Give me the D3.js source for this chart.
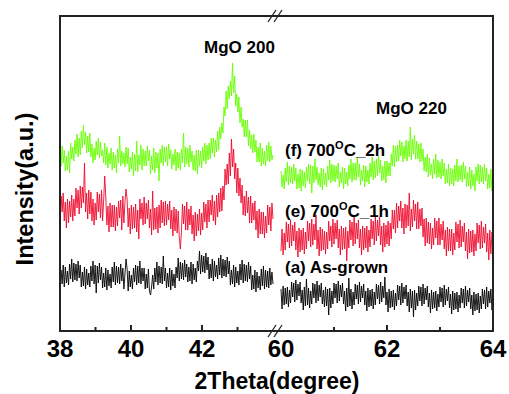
<!DOCTYPE html>
<html>
<head>
<meta charset="utf-8">
<script src="https://cdn.jsdelivr.net/npm/d3@7"></script>
<style>
  html, body { margin: 0; padding: 0; background: #fff; }
  svg { display: block; font-family: "Liberation Sans", Arial, sans-serif; font-weight: bold; }
</style>
</head>
<body>
<svg id="chart" width="509" height="394"></svg>
<script>
// ---- scan ranges (2θ, degrees) ----
const leftRange = [38, 44];
const rightRange = [60, 64];

// ---- intensities (a.u., offset stacked) ----
// left segment: 38 → 44 deg (step 0.03)
const h2Left = [182,165,185,168,181,160,175,161,180,158, 188,172,184,170,191,177,197,174,193,176,
  200,183,206,186,199,178,195,179,198,174, 187,168,183,171,190,176,193,173,189,175,
  181,168,188,166,184,163,178,167,183,161, 179,163,176,158,182,168,195,165,180,167,
  178,164,184,167,183,159,174,162,179,155, 177,160,190,159,176,166,186,161,182,165,
  180,165,185,170,181,157,175,161,183,158, 179,163,178,150,182,168,186,165,184,169,
  184,165,187,172,181,162,177,166,182,160, 179,163,178,161,182,168,198,164,184,167,
  183,164,186,169,180,161,176,160,181,157, 181,165,180,163,184,170,188,167,186,171,
  188,172,193,178,193,174,191,179,200,181, 204,192,208,198,224,215,240,222,245,232,
  250,235,268,238,255,225,237,219,234,208, 224,204,212,194,211,194,211,185,201,182,
  196,178,197,179,191,169,184,169,188,165, 183,167,180,165,186,170,189,169,185,171, 176];
const h1Left = [114,135,119,138,110,129,103,132,108,130, 114,136,110,132,115,143,123,141,117,145,
  123,144,128,168,119,138,112,141,117,139, 110,132,106,128,111,139,119,137,113,141,
  110,131,155,134,106,125,99,128,104,126, 104,126,100,124,105,130,113,131,101,135,
  108,129,142,132,104,123,97,126,102,124, 103,127,99,121,92,132,112,128,106,134,
  107,128,112,131,103,122,96,140,101,123, 102,124,98,126,103,131,108,129,105,130,
  106,127,111,130,102,121,95,124,100,122, 98,120,94,82,99,127,107,125,101,129,
  101,122,106,125,97,116,90,119,95,117, 100,122,96,118,101,129,109,127,103,131,
  109,131,116,136,110,130,106,136,114,138, 119,143,120,145,131,162,146,167,147,178,
  155,192,164,182,152,168,138,163,135,153, 128,146,116,135,115,140,118,134,108,135,
  108,128,111,130,101,120,93,122,97,119, 97,119,93,115,98,126,106,124,100,128, 112];
const asGrownLeft = [46,61,47,66,44,64,48,60,46,67, 52,72,49,68,51,67,50,70,53,66,
  44,59,45,64,42,62,46,58,44,65, 50,70,47,66,38,65,48,68,51,64,
  43,58,44,63,41,61,45,57,43,64, 49,69,46,65,48,64,47,67,50,63,
  42,57,72,62,40,60,44,56,42,63, 49,66,46,65,48,70,47,63,50,63,
  42,57,43,62,40,36,44,56,42,63, 49,69,46,65,48,64,47,75,50,63,
  43,58,44,63,41,61,45,57,43,64, 53,73,50,69,52,68,51,71,54,67,
  49,64,50,69,47,67,51,63,49,70, 60,80,57,76,59,75,58,78,61,74,
  52,67,53,72,50,70,54,66,52,73, 56,76,53,72,55,71,54,74,57,70,
  46,61,47,66,44,64,48,60,46,67, 51,71,48,67,50,66,49,69,52,65,
  41,56,42,61,39,59,43,55,41,62, 45,65,42,61,44,60,43,63,46,59, 47];
// right segment: 60 → 64 deg (step 0.02)
const h2Right = [160,144,156,142,163,149,169,146,165,148, 164,147,167,150,163,142,157,143,162,140,
  161,145,159,143,164,150,167,147,166,138, 165,148,172,151,164,146,158,144,163,141,
  162,146,158,144,165,151,171,148,167,150, 166,149,165,152,168,144,159,148,164,142,
  163,147,159,145,166,152,172,149,168,151, 168,151,174,154,167,146,161,150,166,144,
  165,149,161,147,168,154,174,151,170,153, 172,155,175,158,171,150,165,151,170,148,
  170,155,168,155,177,165,186,164,185,169, 186,170,191,175,189,169,185,172,191,170,
  190,174,204,171,192,177,196,172,190,172, 187,169,188,170,182,160,174,159,177,154,
  173,156,167,152,172,157,177,153,171,154, 169,152,172,155,168,147,162,148,167,145,
  163,147,162,145,166,150,172,149,165,151, 166,149,169,152,165,144,159,145,164,142,
  161,145,157,140,164,150,167,147,166,149, 164,147,167,150,163,142,157,143,162,140, 155];
const h1Right = [80,102,76,98,81,109,89,107,83,111, 85,106,90,109,81,100,74,103,79,101,
  81,103,77,99,82,110,90,108,84,112, 86,107,91,116,82,101,75,104,80,102,
  81,100,77,99,82,110,90,105,84,112, 87,108,92,111,83,102,76,105,81,103,
  82,104,70,100,83,111,91,109,85,116, 87,108,92,111,83,102,76,105,81,103,
  83,105,79,101,84,112,92,110,86,114, 90,111,95,114,86,105,79,108,84,106,
  87,110,85,108,92,121,102,121,98,128, 103,125,110,130,103,123,97,127,103,126,
  105,138,100,122,104,131,110,127,102,129, 102,122,105,123,94,112,85,113,88,109,
  87,108,82,103,86,113,93,110,86,113, 86,107,91,110,82,101,75,104,80,102,
  80,102,76,98,81,109,89,107,83,111, 84,105,89,108,80,99,72,102,78,100,
  79,101,75,97,80,108,88,106,82,110, 83,104,88,107,79,98,71,101,77,99, 92];
const asGrownRight = [42,22,45,26,43,27,44,24,41,28, 49,34,48,29,51,31,47,35,49,28,
  41,21,44,25,52,26,43,23,40,27, 48,33,47,28,50,30,46,34,48,27,
  41,24,44,25,42,16,43,23,40,27, 48,33,47,28,50,30,46,34,48,27,
  40,20,43,24,53,25,42,22,39,26, 47,32,46,27,49,29,45,33,47,26,
  40,20,43,24,41,25,42,22,39,26, 47,32,46,27,49,29,45,33,54,26,
  39,19,42,23,40,24,41,21,38,25, 46,31,45,26,48,28,44,32,46,25,
  39,19,42,23,40,14,41,21,38,25, 45,30,44,25,47,27,43,31,45,24,
  38,18,41,22,39,23,40,20,37,24, 44,29,43,24,46,26,42,30,44,23,
  37,17,40,21,38,22,39,19,36,23, 43,28,42,23,45,25,41,29,43,22,
  36,16,39,20,37,21,38,18,35,22, 42,27,41,22,44,24,40,28,42,21, 30];

const seriesNames = ["(a) As-grown", "(e) 700OC_1h", "(f) 700OC_2h"];
const seriesColors = ["#000000", "#ee0a2c", "#66ff00"];
const leftTicks = [38, 40, 42];
const leftMinor = [39, 41, 43];
const rightTicks = [60, 62, 64];
const rightMinor = [61, 63];
const peakLabels = ["MgO 200", "MgO 220"];

// ---- layout ----
const svg = d3.select("#chart");
const plot = { left: 60, right: 493, top: 16, bottom: 331 };
const xL = d3.scaleLinear().domain(leftRange).range([60, 273]);
const xR = d3.scaleLinear().domain(rightRange).range([281, 493]);
const y = d3.scaleLinear().domain([0, 315]).range([plot.bottom, plot.top]);

function toPoints(vals, range) {
  const n = vals.length;
  const step = (range[1] - range[0]) / (n - 1);
  return vals.map((v, i) => [range[0] + i * step, v]);
}

const leftData = [asGrownLeft, h1Left, h2Left];
const rightData = [asGrownRight, h1Right, h2Right];

const lineL = d3.line().x(d => xL(d[0])).y(d => y(d[1]));
const lineR = d3.line().x(d => xR(d[0])).y(d => y(d[1]));

[2, 1, 0].forEach(k => {
  svg.append("path").attr("d", lineL(toPoints(leftData[k], leftRange)))
    .attr("fill", "none").attr("stroke", seriesColors[k]).attr("stroke-width", 0.9)
    .attr("stroke-linejoin", "round");
  svg.append("path").attr("d", lineR(toPoints(rightData[k], rightRange)))
    .attr("fill", "none").attr("stroke", seriesColors[k]).attr("stroke-width", 0.9)
    .attr("stroke-linejoin", "round");
});

// ---- frame ----
const frameColor = "#222";
svg.append("line").attr("x1", plot.left).attr("x2", plot.left).attr("y1", plot.top - 1).attr("y2", plot.bottom + 1)
  .attr("stroke", frameColor).attr("stroke-width", 2);
svg.append("line").attr("x1", plot.right).attr("x2", plot.right).attr("y1", plot.top - 1).attr("y2", plot.bottom + 1)
  .attr("stroke", frameColor).attr("stroke-width", 2);
svg.append("line").attr("x1", plot.left).attr("x2", plot.right).attr("y1", plot.top).attr("y2", plot.top)
  .attr("stroke", frameColor).attr("stroke-width", 2);
svg.append("line").attr("x1", plot.left).attr("x2", plot.right).attr("y1", plot.bottom).attr("y2", plot.bottom)
  .attr("stroke", frameColor).attr("stroke-width", 2);

// break marks
[plot.top, plot.bottom].forEach(yy => {
  [272, 278].forEach(xx => {
    svg.append("line").attr("x1", xx - 4).attr("y1", yy + 6).attr("x2", xx + 4).attr("y2", yy - 6)
      .attr("stroke", frameColor).attr("stroke-width", 1.3);
  });
});

// ticks
function ticks(scale, vals, len) {
  vals.forEach(v => {
    svg.append("line").attr("x1", scale(v)).attr("x2", scale(v))
      .attr("y1", plot.bottom).attr("y2", plot.bottom - len)
      .attr("stroke", frameColor).attr("stroke-width", 2);
  });
}
ticks(xL, leftTicks, 6); ticks(xL, leftMinor, 4);
ticks(xR, rightTicks.slice(1), 6); ticks(xR, rightMinor, 4);

// tick labels
function tickLabels(scale, vals) {
  vals.forEach(v => {
    svg.append("text").attr("x", scale(v)).attr("y", 357).attr("text-anchor", "middle")
      .attr("font-size", 24).attr("fill", "#000").text(v);
  });
}
tickLabels(xL, leftTicks);
tickLabels(xR, rightTicks);

// axis titles
svg.append("text").attr("x", 277).attr("y", 389).attr("text-anchor", "middle")
  .attr("font-size", 23).attr("fill", "#000").text("2Theta(degree)");
svg.append("text").attr("transform", "translate(33,189) rotate(-90)").attr("text-anchor", "middle")
  .attr("font-size", 23.5).attr("fill", "#000").text("Intensity(a.u.)");

// peak labels
svg.append("text").attr("x", 204).attr("y", 53).attr("font-size", 17).attr("fill", "#000").text(peakLabels[0]);
svg.append("text").attr("x", 376).attr("y", 114).attr("font-size", 17).attr("fill", "#000").text(peakLabels[1]);

// series labels
function seriesLabel(name, yy) {
  const t = svg.append("text").attr("x", 285).attr("y", yy).attr("font-size", 17).attr("fill", "#000");
  const idx = name.indexOf("OC");
  if (idx < 0) { t.text(name); return; }
  t.append("tspan").text(name.slice(0, idx));
  t.append("tspan").attr("dy", -7).attr("font-size", 11).text("O");
  t.append("tspan").attr("dy", 7).text(name.slice(idx + 1));
}
seriesLabel(seriesNames[2], 156);
seriesLabel(seriesNames[1], 217);
seriesLabel(seriesNames[0], 273);
</script>
</body>
</html>
